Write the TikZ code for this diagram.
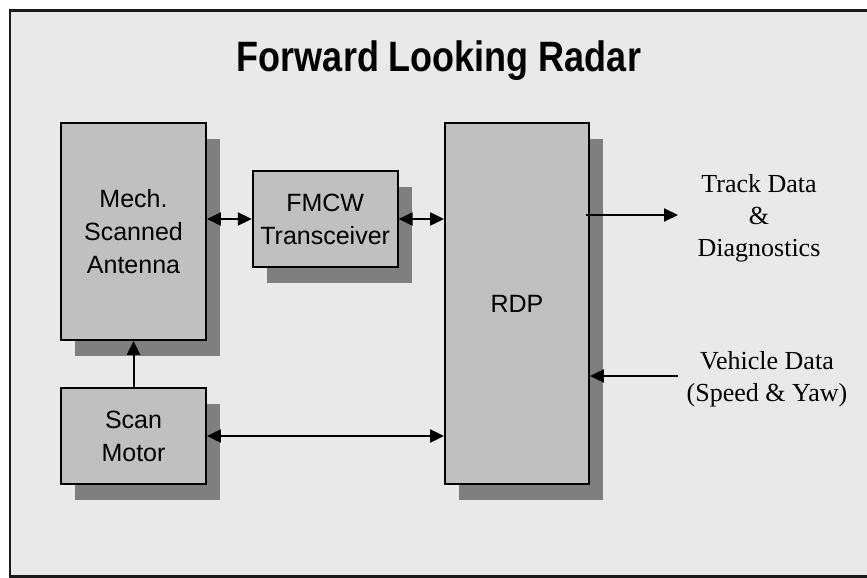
\documentclass[tikz,border=0pt]{standalone}
\usepackage{fontspec}
\usepackage{graphicx}
\setmainfont{Liberation Serif}
\setsansfont{Liberation Sans}
\usetikzlibrary{arrows.meta,shadows}

\definecolor{panel}{HTML}{E9E9E9}
\definecolor{boxfill}{HTML}{C0C0C0}
\definecolor{shade}{HTML}{7F7F7F}
\definecolor{frame}{HTML}{1A1A1A}

\tikzset{
  block/.style={draw=black, line width=1.8pt, fill=boxfill, align=center,
    font=\sffamily\fontsize{25}{33}\selectfont, inner sep=0pt,
    copy shadow={shadow xshift=14pt, shadow yshift=-16pt, fill=shade, draw=none}},
  link/.style={line width=2pt, draw=black, arrows={-Triangle[length=14pt,width=13pt]}},
  duplex/.style={line width=2pt, draw=black,
    arrows={Triangle[length=14pt,width=13pt]-Triangle[length=14pt,width=13pt]}},
  label/.style={align=center, font=\rmfamily\fontsize{26}{32}\selectfont}
}

\begin{document}
\begin{tikzpicture}[x=1pt,y=-1pt]
  % page and framed panel
  \fill[white] (0,0) rectangle (867,578);
  \useasboundingbox (0,0) rectangle (867,578);
  \fill[panel] (10,10.5) rectangle (869,576.5);
  \draw[frame, line width=2.5pt] (869,10.5) -- (10,10.5) -- (10,576.5) -- (869,576.5);

  % title
  \node[anchor=base, font=\sffamily\bfseries\fontsize{36}{40}\selectfont] (title) at (439,71)
    {\scalebox{1}[1.18]{Forward Looking Radar}};

  % blocks
  \node[block, minimum width=145pt, minimum height=217pt] (ant) at (133.5,231.5) {Mech.\\Scanned\\Antenna};
  \node[block, minimum width=145pt, minimum height=96pt] (fmcw) at (325.2,219) {FMCW\\Transceiver};
  \node[block, minimum width=145pt, minimum height=96pt] (motor) at (133.5,436) {Scan\\Motor};
  \node[block, minimum width=144pt, minimum height=361pt] (rdp) at (517,303.5) {RDP};

  % external signal labels
  \node[label] (track) at (759,218) {Track Data\\\&\\Diagnostics};
  \node[label] (veh) at (767,379) {Vehicle Data\\(Speed \& Yaw)};
  \coordinate (tdend) at (678,215);
  \coordinate (vdstart) at (678,376);

  % connections
  \draw[duplex] (ant.east |- fmcw.west) -- (fmcw.west);
  \draw[duplex] (fmcw.east) -- (rdp.west |- fmcw.east);
  \draw[link] (motor.north) -- (ant.south);
  \draw[duplex] (motor.east) -- (rdp.west |- motor.east);
  \draw[link] ([xshift=-4pt]rdp.east |- tdend) -- (tdend);
  \draw[link] (vdstart) -- (rdp.east |- vdstart);
\end{tikzpicture}
\end{document}
